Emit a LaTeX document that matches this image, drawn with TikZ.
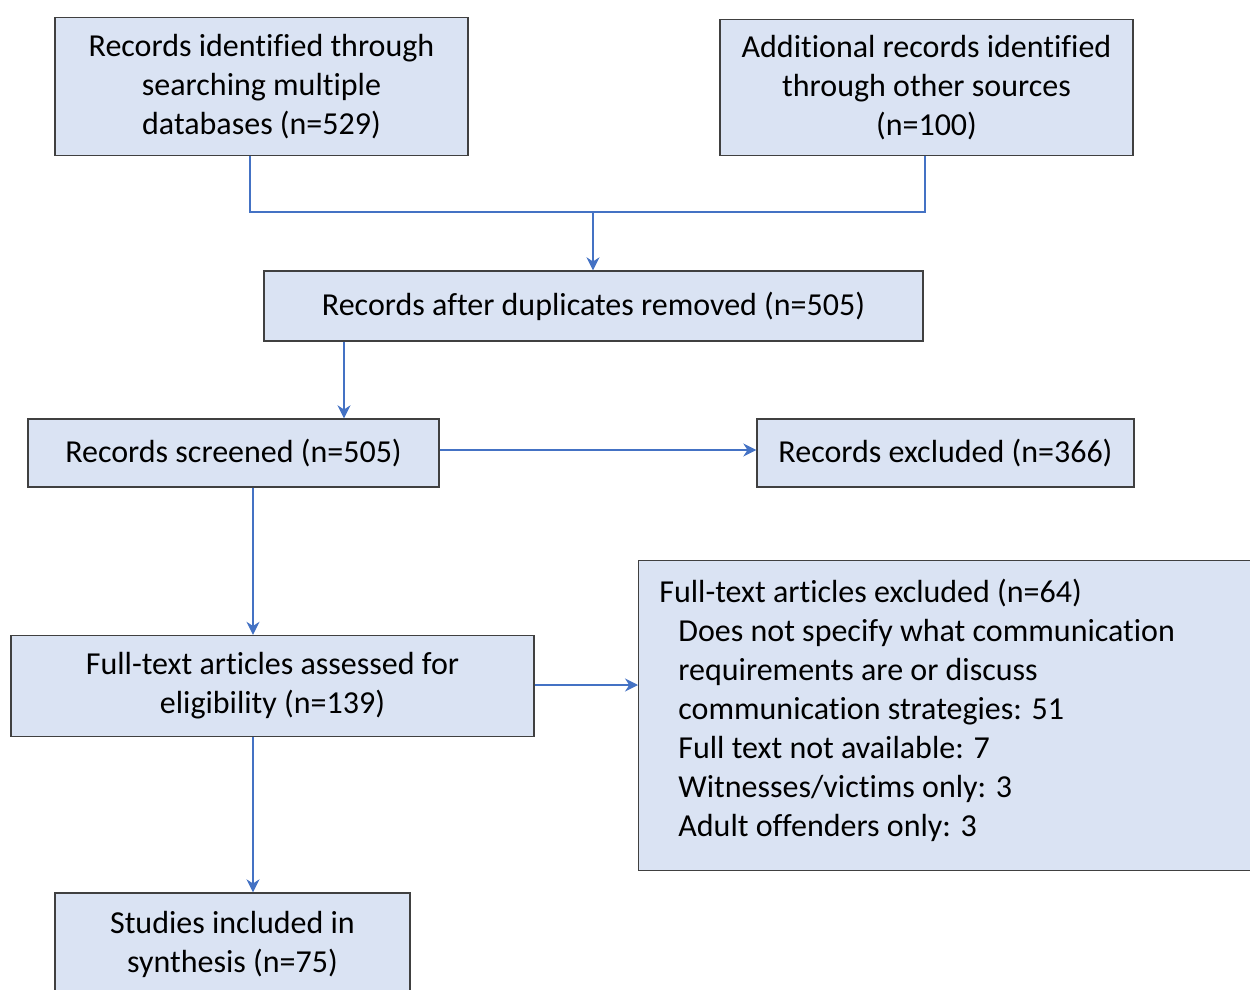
\documentclass[tikz,border=0pt]{standalone}
\usepackage{fontspec}
\setmainfont{Carlito}[Ligatures=NoCommon]
\usetikzlibrary{arrows.meta}
\definecolor{boxfill}{HTML}{DAE3F3}
\definecolor{boxline}{HTML}{404040}
\definecolor{arrowc}{HTML}{4472C4}
\begin{document}
\begin{tikzpicture}[x=0.5pt,y=-0.5pt,
  txt/.style={font=\fontsize{16pt}{19.5pt}\selectfont},
  box/.style={draw=boxline,fill=boxfill,line width=0.7pt,align=center,inner sep=0pt,txt},
  conn/.style={draw=arrowc,line width=0.7pt},
  arr/.style={conn,-{Stealth[length=6.5pt,width=6.5pt]}}]
\useasboundingbox (0,0) rectangle (1250,990);
\clip (0,0) rectangle (1250,990);
\node[box,minimum width=413*0.5pt,minimum height=138*0.5pt] (A) at (261.5,86.5)
  {Records identified through\\searching multiple\\databases (n=529)};
\node[box,minimum width=413*0.5pt,minimum height=136*0.5pt] (B) at (926.5,87.5)
  {Additional records identified\\through other sources\\(n=100)};
\node[box,minimum width=659*0.5pt,minimum height=70*0.5pt] (C) at (593.5,306)
  {Records after duplicates removed (n=505)};
\node[box,minimum width=411*0.5pt,minimum height=68*0.5pt] (D) at (233.5,453)
  {Records screened (n=505)};
\node[box,minimum width=377*0.5pt,minimum height=68*0.5pt] (E) at (945.5,453)
  {Records excluded (n=366)};
\node[box,minimum width=523*0.5pt,minimum height=101*0.5pt] (F) at (272.5,686)
  {Full-text articles assessed for\\eligibility (n=139)};
\node[box,anchor=north west,minimum width=624*0.5pt,minimum height=310*0.5pt] (G) at (638,560) {};
\node[txt,align=left,anchor=north west,inner sep=0pt] (Gt) at (659,579)
  {Full-text articles excluded (n=64)\\
   \hspace*{9.5pt}Does not specify what communication\\
   \hspace*{9.5pt}requirements are or discuss\\
   \hspace*{9.5pt}communication strategies: 51\\
   \hspace*{9.5pt}Full text not available: 7\\
   \hspace*{9.5pt}Witnesses/victims only: 3\\
   \hspace*{9.5pt}Adult offenders only: 3};
\node[box,minimum width=355*0.5pt,minimum height=103*0.5pt] (H) at (232.5,944.5)
  {Studies included in\\synthesis (n=75)};
\coordinate (jA) at (250,212);
\coordinate (jB) at (925,212);
\coordinate (j) at (593,212);
\coordinate (cD) at (344,0);
\coordinate (cF) at (253,0);
\draw[conn] (A.south -| jA) -- (jA) -- (jB) -- (B.south -| jB);
\draw[arr] (j) -- (C.north -| j);
\draw[arr] (C.south -| cD) -- (D.north -| cD);
\draw[arr] ([yshift=1.5pt]D.east) -- ([yshift=1.5pt]E.west);
\draw[arr] (D.south -| cF) -- (F.north -| cF);
\draw[arr] ([yshift=0.5pt]F.east) -- ([yshift=0.5pt]F.east -| G.west);
\draw[arr] (F.south -| cF) -- (H.north -| cF);
\end{tikzpicture}
\end{document}
